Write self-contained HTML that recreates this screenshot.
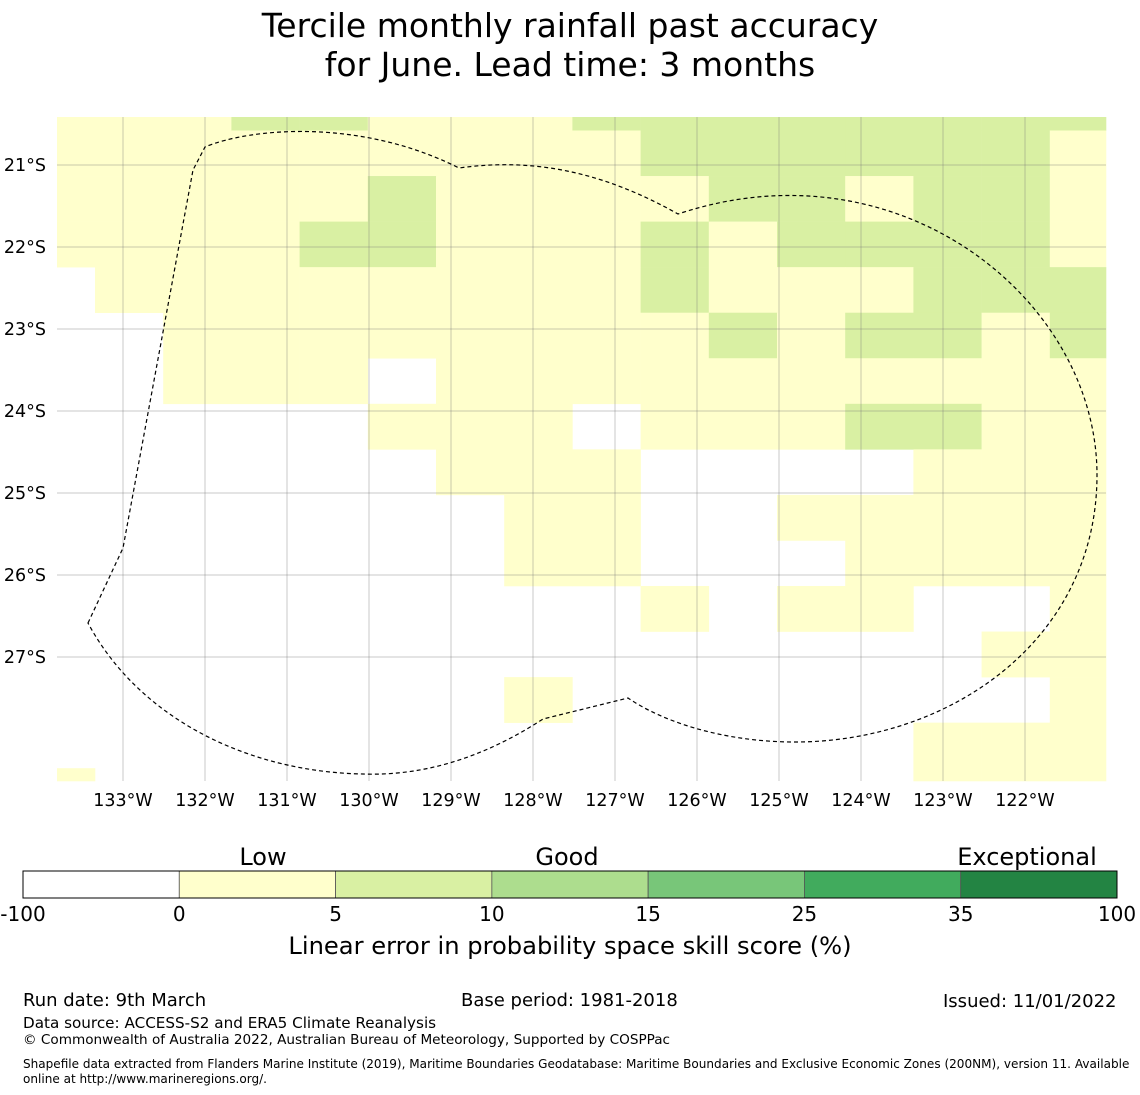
<!DOCTYPE html>
<html><head><meta charset="utf-8">
<style>
body{margin:0;background:#fff;font-family:"DejaVu Sans","Liberation Sans",sans-serif;}
#wrap{position:relative;width:1140px;height:1095px;overflow:hidden;background:#fff}
.t{position:absolute;white-space:nowrap;color:#000}
</style></head><body>
<div id="wrap">
<div class="t" style="left:0;width:1140px;top:6px;text-align:center;font-size:33px;line-height:39px">Tercile monthly rainfall past accuracy<br>for June. Lead time: 3 months</div>
<svg id="svg" width="1140" height="1095" style="position:absolute;left:0;top:0"></svg>
<div class="t" style="left:23px;top:990px;font-size:18px">Run date: 9th March</div>
<div class="t" style="left:461px;top:990px;font-size:18px">Base period: 1981-2018</div>
<div class="t" style="left:943px;top:991px;font-size:18px">Issued: 11/01/2022</div>
<div class="t" style="left:23px;top:1014px;font-size:15.2px">Data source: ACCESS-S2 and ERA5 Climate Reanalysis</div>
<div class="t" style="left:23px;top:1032px;font-size:13.6px">© Commonwealth of Australia 2022, Australian Bureau of Meteorology, Supported by COSPPac</div>
<div class="t" style="left:23px;top:1057px;font-size:12.05px;line-height:14.5px">Shapefile data extracted from Flanders Marine Institute (2019), Maritime Boundaries Geodatabase: Maritime Boundaries and Exclusive Economic Zones (200NM), version 11. Available<br>online at http://www.marineregions.org/.</div>
</div>
<script>
// grid data: 0 = below 0 (white), 1 = 0-5, 2 = 5-10
const row0=[1,1,1,2,2,1,1,1,2,2,2,2,2,2,2,2];
const row1=[1,1,1,1,1,1,1,1,1,2,2,2,2,2,2,1];
const row2=[1,1,1,1,1,2,1,1,1,1,2,2,1,2,2,1];
const row3=[1,1,1,1,2,2,1,1,1,2,1,2,2,2,2,1];
const row4=[0,1,1,1,1,1,1,1,1,2,1,1,1,2,2,2];
const row5=[0,0,1,1,1,1,1,1,1,1,2,1,2,2,1,2];
const row6=[0,0,1,1,1,0,1,1,1,1,1,1,1,1,1,1];
const row7=[0,0,0,0,0,1,1,1,0,1,1,1,2,2,1,1];
const row8=[0,0,0,0,0,0,1,1,1,0,0,0,0,1,1,1];
const row9=[0,0,0,0,0,0,0,1,1,0,0,1,1,1,1,1];
const row10=[0,0,0,0,0,0,0,1,1,0,0,0,1,1,1,1];
const row11=[0,0,0,0,0,0,0,0,0,1,0,1,1,0,0,1];
const row12=[0,0,0,0,0,0,0,0,0,0,0,0,0,0,1,1];
const row13=[0,0,0,0,0,0,0,1,0,0,0,0,0,0,0,1];
const row14=[0,0,0,0,0,0,0,0,0,0,0,0,0,1,1,1];
const row15=[1,0,0,0,0,0,0,0,0,0,0,0,0,1,1,1];
const grid=[row0,row1,row2,row3,row4,row5,row6,row7,row8,row9,row10,row11,row12,row13,row14,row15];
const lonTicks=[133,132,131,130,129,128,127,126,125,124,123,122];
const latTicks=[21,22,23,24,25,26,27];
const cbBounds=["-100","0","5","10","15","25","35","100"];
const cbColors=["#ffffff","#ffffcc","#d9f0a3","#addd8e","#78c679","#41ab5d","#238443"];
const cbCategories=["Low","Good","Exceptional"];

const NS="http://www.w3.org/2000/svg";
const svg=document.getElementById('svg');
function mk(t,a,p){const e=document.createElementNS(NS,t);for(const k in a)e.setAttribute(k,a[k]);(p||svg).appendChild(e);return e;}
const X0=57,X1=1106,Y0=117,Y1=781;
const xLon=l=>123+(133-l)*82;
const yLat=l=>165+(l-21)*82;
const colX=c=>c===0?X0:Math.min(X1,95+(c-1)*68.2);
const rowY=r=>r===0?Y0:Math.min(Y1,130.5+(r-1)*45.55);
const cellG=mk('g',{});


grid.forEach((row,r)=>row.forEach((v,c)=>{
  if(!v)return;
  const x=colX(c),y=rowY(r),w=colX(c+1)-x,h=rowY(r+1)-y;
  const e=mk('rect',{x:x,y:y,width:w+0.3,height:h+0.3,fill:cbColors[v]},cellG);
  
  
}));
lonTicks.forEach(l=>{
  const x=xLon(l);
  mk('line',{x1:x,y1:Y0,x2:x,y2:Y1,stroke:'#777','stroke-width':0.4});
  const t=mk('text',{x:x,y:806,'font-size':17.5,'text-anchor':'middle','font-family':'DejaVu Sans, sans-serif'});
  t.textContent=l+'°W';
  
  
});
latTicks.forEach(l=>{
  const y=yLat(l);
  mk('line',{x1:X0,y1:y,x2:X1,y2:y,stroke:'#777','stroke-width':0.4});
  const t=mk('text',{x:46,y:y+6,'font-size':17.5,'text-anchor':'end','font-family':'DejaVu Sans, sans-serif'});
  t.textContent=l+'°S';
  
  
});
const b=mk('path',{d:'M88,623 L123,548 L193,170 L205,147 C250,128 360,118 459,168 C530,158 600,170 678,214 C900,140 1097,300 1097,475 C1097,640 950,742 795,742 C720,742 660,720 628,698 L543,719 C480,760 420,776 363,774 C250,772 140,720 88,623 Z',fill:'none',stroke:'#000','stroke-width':1.2,'stroke-dasharray':'4,3'});


const cbX=23,cbW=1094,cbY=871,cbH=27,seg=cbW/cbColors.length;
cbColors.forEach((c,i)=>{
  const e=mk('rect',{x:cbX+i*seg,y:cbY,width:seg,height:cbH,fill:c,stroke:'#555','stroke-width':0.8});
  
  
});
mk('rect',{x:cbX,y:cbY,width:cbW,height:cbH,fill:'none',stroke:'#000','stroke-width':1});
cbBounds.forEach((s,i)=>{
  const t=mk('text',{x:cbX+i*seg,y:921,'font-size':20,'text-anchor':'middle','font-family':'DejaVu Sans, sans-serif'});
  t.textContent=s;
  
  
});
const catX=[263,567,1027];
cbCategories.forEach((s,i)=>{
  const t=mk('text',{x:catX[i],y:865,'font-size':24,'text-anchor':'middle','font-family':'DejaVu Sans, sans-serif'});
  t.textContent=s;
  
  
});
const ct=mk('text',{x:570,y:954,'font-size':24.2,'text-anchor':'middle','font-family':'DejaVu Sans, sans-serif'});
ct.textContent='Linear error in probability space skill score (%)';


</script>
</body></html>
